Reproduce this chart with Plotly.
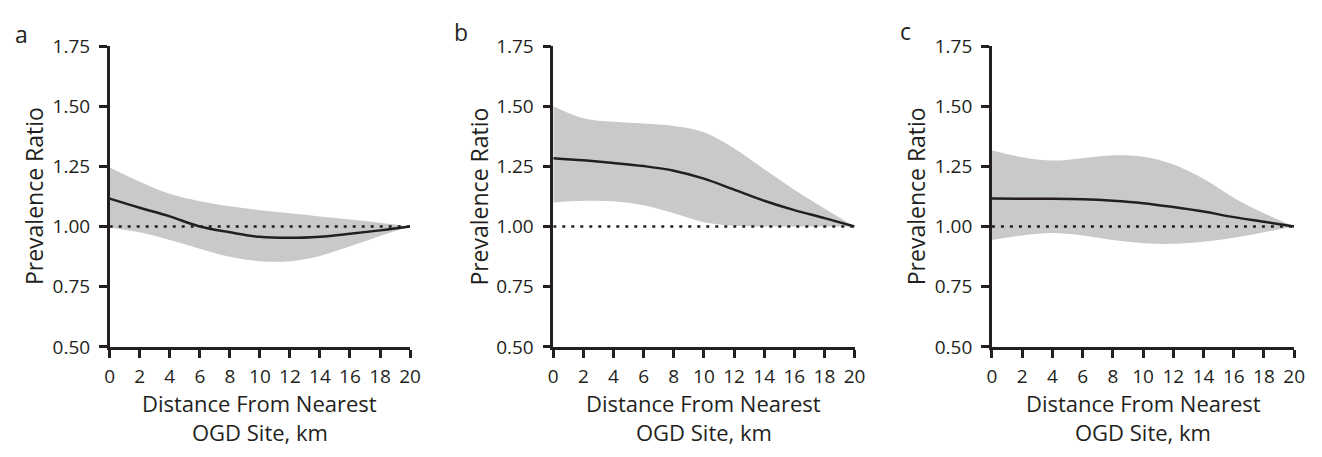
import plotly.graph_objects as go

# ---------------- data ----------------
distance_km = [0, 2, 4, 6, 8, 10, 12, 14, 16, 18, 20]

a_estimate = [1.116, 1.078, 1.042, 1.000, 0.976, 0.957, 0.953, 0.958, 0.970, 0.984, 1.000]
a_upper    = [1.245, 1.186, 1.136, 1.105, 1.084, 1.068, 1.055, 1.042, 1.029, 1.016, 1.000]
a_lower    = [0.995, 0.976, 0.944, 0.908, 0.874, 0.856, 0.856, 0.878, 0.918, 0.961, 1.000]

b_estimate = [1.284, 1.275, 1.264, 1.251, 1.232, 1.199, 1.153, 1.107, 1.068, 1.035, 1.000]
b_upper    = [1.500, 1.450, 1.435, 1.428, 1.418, 1.392, 1.325, 1.238, 1.153, 1.075, 1.000]
b_lower    = [1.100, 1.107, 1.105, 1.088, 1.055, 1.018, 1.003, 1.000, 1.000, 1.000, 1.000]

c_estimate = [1.116, 1.115, 1.115, 1.113, 1.107, 1.097, 1.081, 1.062, 1.039, 1.020, 1.000]
c_upper    = [1.317, 1.288, 1.274, 1.284, 1.296, 1.290, 1.258, 1.199, 1.120, 1.055, 1.000]
c_lower    = [0.944, 0.963, 0.973, 0.963, 0.944, 0.931, 0.928, 0.937, 0.953, 0.976, 1.000]

reference_ratio = 1.0
panel_labels = ["a", "b", "c"]
y_ticks = [0.50, 0.75, 1.00, 1.25, 1.50, 1.75]
x_ticks = [0, 2, 4, 6, 8, 10, 12, 14, 16, 18, 20]
y_title = "Prevalence Ratio"
x_title_lines = ["Distance From Nearest", "OGD Site, km"]

panels = [
    (a_estimate, a_upper, a_lower),
    (b_estimate, b_upper, b_lower),
    (c_estimate, c_upper, c_lower),
]

# ---------------- layout geometry ----------------
W, H = 1322, 457
INK = "#231f20"
BAND = "#c8c9cb"
FONT = "Open Sans"
x_px = [(106, 410), (555, 860), (999, 1305)]
y_top, y_bot = 35, 354
ytitle_x = [30, 480, 923]
label_xy = [(17, 22), (462, 20), (912, 19)]

fig = go.Figure()

for i, (est, up, lo) in enumerate(panels):
    ax = "" if i == 0 else str(i + 1)
    xr, yr = "x" + ax, "y" + ax
    fig.add_trace(go.Scatter(x=distance_km, y=up, mode="lines", line=dict(width=0, shape="spline"),
                             xaxis=xr, yaxis=yr, hoverinfo="skip"))
    fig.add_trace(go.Scatter(x=distance_km, y=lo, mode="lines", line=dict(width=0, shape="spline"),
                             fill="tonexty", fillcolor=BAND, xaxis=xr, yaxis=yr, hoverinfo="skip"))
    fig.add_trace(go.Scatter(x=[distance_km[0], distance_km[-1]], y=[reference_ratio, reference_ratio],
                             mode="lines", line=dict(color=INK, width=2.5, dash="3px,6px"),
                             xaxis=xr, yaxis=yr, hoverinfo="skip"))
    fig.add_trace(go.Scatter(x=distance_km, y=est, mode="lines",
                             line=dict(color=INK, width=2.5, shape="spline"),
                             xaxis=xr, yaxis=yr))

    x0, x1 = x_px[i]
    xdom = [x0 / W, x1 / W]
    ydom = [1 - y_bot / H, 1 - y_top / H]
    common = dict(showline=True, linewidth=2.5, linecolor=INK, ticks="outside", ticklen=8,
                  tickwidth=2.5, tickcolor=INK, showgrid=False, zeroline=False,
                  tickfont=dict(family=FONT, size=19, color=INK))
    fig.update_layout(**{
        "xaxis" + ax: dict(domain=xdom, range=[0, 20], tickvals=x_ticks, anchor=yr,
                           ticklabelstandoff=3, **common),
        "yaxis" + ax: dict(domain=ydom, range=[0.5, 1.75], tickvals=y_ticks, tickformat=".2f",
                           anchor=xr, ticklabelstandoff=5, **common),
    })

    cx = (x0 + x1) / 2 / W
    fig.add_annotation(x=ytitle_x[i] / W, y=1 - (y_top + y_bot) / 2 / H, xref="paper", yref="paper",
                       text=y_title, textangle=-90, showarrow=False,
                       font=dict(family=FONT, size=23, color=INK), xanchor="center", yanchor="middle")
    for k, line in enumerate(x_title_lines):
        fig.add_annotation(x=cx, y=1 - (414 + 30 * k) / H, xref="paper", yref="paper",
                           text=line, showarrow=False, font=dict(family=FONT, size=22, color=INK),
                           xanchor="center", yanchor="middle")
    lx, ly = label_xy[i]
    fig.add_annotation(x=lx / W, y=1 - ly / H, xref="paper", yref="paper", text=panel_labels[i],
                       showarrow=False, font=dict(family=FONT, size=23, color=INK),
                       xanchor="center", yanchor="middle")

fig.update_layout(width=W, height=H, margin=dict(l=0, r=0, t=0, b=0), showlegend=False,
                  plot_bgcolor="white", paper_bgcolor="white")

fig.write_html("out.html")
